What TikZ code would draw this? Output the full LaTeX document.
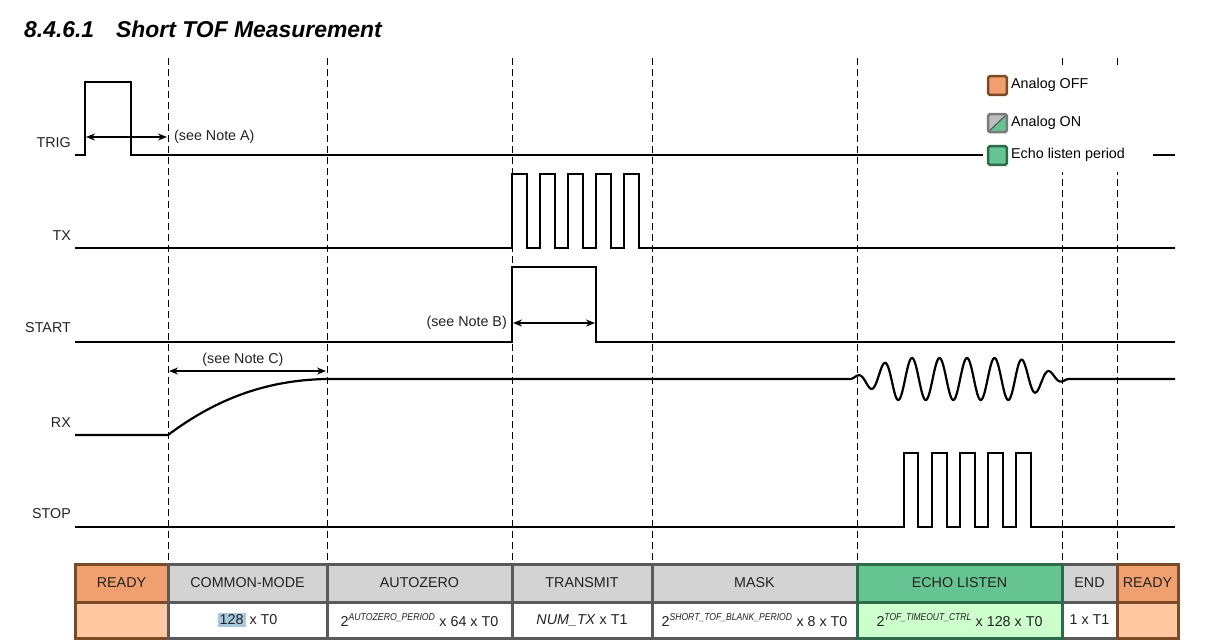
\documentclass[tikz,border=0pt]{standalone}
\usepackage{fontspec}
\usepackage{graphicx}
\setmainfont{Liberation Sans}
\usetikzlibrary{arrows.meta}
\definecolor{offfill}{HTML}{F0A06E}
\definecolor{offline}{HTML}{7B4A26}
\definecolor{offlight}{HTML}{FFC8A0}
\definecolor{grayfill}{HTML}{D3D3D3}
\definecolor{grayline}{HTML}{5A5A5A}
\definecolor{echofill}{HTML}{66C493}
\definecolor{echoline}{HTML}{2E6B48}
\definecolor{echolight}{HTML}{CCFFCC}
\definecolor{hl}{HTML}{A8C8E0}
\definecolor{txt}{HTML}{222222}
\newcommand\supx[2]{\textsuperscript{\fontsize{10}{10}\selectfont\itshape\scalebox{#1}[1]{#2}}}
\begin{document}
\begin{tikzpicture}[x=1pt,y=-1pt,
  sig/.style={line width=2.6pt, line join=miter},
  rxsig/.style={line width=2.2pt},
  gridline/.style={dash pattern=on 7pt off 4pt, line width=0.9pt},
  dim/.style={{Stealth[length=9pt,width=7pt]}-{Stealth[length=9pt,width=7pt]}, line width=1.6pt},
  lbl/.style={font=\fontsize{14.3}{16}\selectfont, text=txt, inner sep=0pt},
  cell/.style={draw, line width=3pt, inner sep=0pt, font=\fontsize{14.3}{16}\selectfont, text=txt},
  hrow/.style={minimum height=38pt},
  vrow/.style={minimum height=36pt},
  graycell/.style={cell, draw=grayline, fill=grayfill},
  whitecell/.style={cell, draw=grayline, fill=white},
  legbox/.style={line width=2.5pt, rounded corners=1.5pt}
]
\useasboundingbox (0,0) rectangle (1221,643);

% title
\node[anchor=base west, inner sep=0pt, font=\fontsize{22.9}{26}\selectfont\bfseries\itshape] (title) at (24,37) {8.4.6.1\hspace{22pt}Short TOF Measurement};

% dashed grid
\foreach \gx/\gn in {168/g1,327/g2,512/g3,652/g4,857/g5,1062/g6,1117/g7}{
  \coordinate (\gn t) at (\gx,58);
  \coordinate (\gn b) at (\gx,564);
  \draw[gridline] (\gn t) -- (\gn b);
}

% signal labels
\node[lbl, anchor=east] (ltrig) at (71,143) {TRIG};
\node[lbl, anchor=east] (ltx) at (71,236) {TX};
\node[lbl, anchor=east] (lstart) at (71,328) {START};
\node[lbl, anchor=east] (lrx) at (71,423) {RX};
\node[lbl, anchor=east] (lstop) at (71,514) {STOP};

% TRIG
\draw[sig] (75,155) -- (85,155) -- (85,82) -- (131,82) -- (131,155) -- (1175,155);
% TX
\draw[sig] (75,248) -- (512,248) -- (512,174) -- (527,174) -- (527,248) -- (540,248) -- (540,174) -- (555,174) -- (555,248) -- (568,248) -- (568,174) -- (583,174) -- (583,248) -- (596,248) -- (596,174) -- (611,174) -- (611,248) -- (624,248) -- (624,174) -- (639,174) -- (639,248) -- (1175,248);
% START
\draw[sig] (75,342) -- (512,342) -- (512,267) -- (596,267) -- (596,342) -- (1175,342);
% RX
\draw[rxsig] (75,435) -- (168,435) .. controls (212,402) and (262,380) .. (327,379) -- (850,379)
  -- plot[domain=850:1068, samples=260, smooth] (\x, {379 - 21*min(1,(\x-850)/45,(1068-\x)/50)*cos((\x-857)*13.0909)})
  -- (1175,379);
% STOP
\draw[sig] (75,527) -- (904,527) -- (904,453) -- (918,453) -- (918,527) -- (932,527) -- (932,453) -- (947,453) -- (947,527) -- (960,527) -- (960,453) -- (975,453) -- (975,527) -- (988,527) -- (988,453) -- (1003,453) -- (1003,527) -- (1016,527) -- (1016,453) -- (1031,453) -- (1031,527) -- (1175,527);

% dimension arrows and notes
\coordinate (na1) at (86,137); \coordinate (na2) at (167,137);
\draw[dim] (na1) -- (na2);
\node[lbl, anchor=west] (noteA) at (174,137) {(see Note A)};
\coordinate (nb1) at (513,323); \coordinate (nb2) at (595,323);
\draw[dim] (nb1) -- (nb2);
\node[lbl, anchor=east] (noteB) at (507,323) {(see Note B)};
\coordinate (nc1) at (169,371); \coordinate (nc2) at (326,371);
\draw[dim] (nc1) -- (nc2);
\node[lbl] (noteC) at (243,360) {(see Note C)};

% legend
\fill[white] (983,68) rectangle (1153,172);
\draw[legbox, draw=offline, fill=offfill] (988.2,76.2) rectangle (1006.8,94.8);
\fill[grayfill!90!black] (988.2,132) -- (988.2,114.2) -- (1006.8,114.2) -- cycle;
\fill[echofill] (988.2,132) -- (1006.8,114.2) -- (1006.8,132) -- cycle;
\draw[line width=1.2pt, grayline] (988.2,132) -- (1006.8,114.2);
\draw[legbox, draw=grayline!80] (988.2,114.2) rectangle (1006.8,132);
\draw[legbox, draw=echoline, fill=echofill] (988.2,146.2) rectangle (1006.8,164.8);
\node[lbl, anchor=west, text=black] (legoff) at (1011,85) {Analog OFF};
\node[lbl, anchor=west, text=black] (legon) at (1011,123) {Analog ON};
\node[lbl, anchor=west, text=black] (legecho) at (1011,155) {Echo listen period};

% table
\node[cell, hrow, draw=offline, fill=offfill, minimum width=93pt] (ready1) at (121.5,583) {READY};
\node[cell, vrow, draw=offline, fill=offlight, minimum width=93pt] (ready1v) at (121.5,620) {};
\node[graycell, hrow, minimum width=159pt] (cm) at (247.5,583) {COMMON-MODE};
\node[whitecell, vrow, minimum width=159pt] (cmv) at (247.5,620) {{\setlength\fboxsep{2pt}\colorbox{hl}{128}} x T0};
\node[graycell, hrow, minimum width=185pt] (az) at (419.5,583) {AUTOZERO};
\node[whitecell, vrow, minimum width=185pt] (azv) at (419.5,620) {2\supx{0.87}{AUTOZERO\_PERIOD} x 64 x T0};
\node[graycell, hrow, minimum width=140pt] (tr) at (582,583) {TRANSMIT};
\node[whitecell, vrow, minimum width=140pt] (trv) at (582,620) {\textit{NUM\_TX} x T1};
\node[graycell, hrow, minimum width=205pt] (mask) at (754.5,583) {MASK};
\node[whitecell, vrow, minimum width=205pt] (maskv) at (754.5,620) {2\supx{0.86}{SHORT\_TOF\_BLANK\_PERIOD} x 8 x T0};
\node[graycell, hrow, minimum width=55pt] (end) at (1089.5,583) {END};
\node[whitecell, vrow, minimum width=55pt] (endv) at (1089.5,620) {1 x T1};
\node[cell, hrow, draw=echoline, fill=echofill, minimum width=205pt] (echo) at (959.5,583) {ECHO LISTEN};
\node[cell, vrow, draw=echoline, fill=echolight, minimum width=205pt] (echov) at (959.5,620) {2\supx{0.85}{TOF\_TIMEOUT\_CTRL} x 128 x T0};
\node[cell, hrow, draw=offline, fill=offfill, minimum width=61pt] (ready2) at (1147.5,583) {READY};
\node[cell, vrow, draw=offline, fill=offlight, minimum width=61pt] (ready2v) at (1147.5,620) {};
\end{tikzpicture}
\end{document}
